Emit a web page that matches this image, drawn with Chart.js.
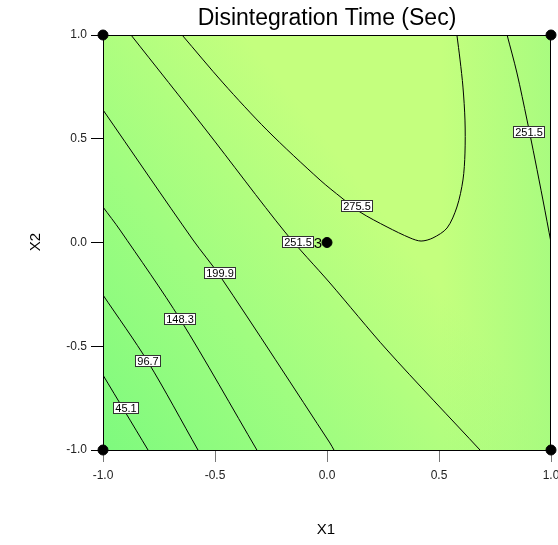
<!DOCTYPE html>
<html>
<head>
<meta charset="utf-8">
<script src="https://cdn.jsdelivr.net/npm/chart.js@4/dist/chart.umd.min.js"></script>
<style>
  html, body { margin: 0; padding: 0; background: #fff; }
  #wrap { width: 558px; height: 545px; }
</style>
</head>
<body>
<div id="wrap"><canvas id="grafiek" width="558" height="545"></canvas></div>
<script>
// tick labels
const tickWaarden = [-1.0, -0.5, 0.0, 0.5, 1.0];

// design points (X1, X2)
const puntX1 = [-1, 1, -1, 1, 0];
const puntX2 = [1, 1, -1, -1, 0];
const centrumAantal = "3";

// contour lines (X1, X2)
const c45X1 = [-1.000, -0.902, -0.799];
const c45X2 = [-0.639, -0.815, -1.000];

const c97X1 = [-1.000, -0.799, -0.576];
const c97X2 = [-0.253, -0.576, -1.000];

const c148X1 = [-1.000, -0.924, -0.656, -0.313];
const c148X2 = [0.171, 0.060, -0.369, -1.000];

const c200X1 = [-1.000, -0.598, -0.478, 0.013, 0.031];
const c200X2 = [0.639, 0.012, -0.161, -0.966, -1.000];

const c252X1 = [-0.875, -0.540, -0.188, 0.013, 0.268, 0.683];
const c252X2 = [1.000, 0.542, 0.051, -0.195, -0.518, -1.000];

const c276X1 = [-0.647, -0.464, -0.268, -0.031, 0.067, 0.147, 0.268, 0.371, 0.420, 0.473, 0.536, 0.580, 0.607, 0.616, 0.616, 0.607, 0.594, 0.580];
const c276X2 = [1.000, 0.769, 0.542, 0.301, 0.214, 0.147, 0.075, 0.022, 0.007, 0.022, 0.070, 0.171, 0.301, 0.431, 0.590, 0.749, 0.880, 1.000];

const c252bX1 = [0.804, 0.848, 0.893, 0.929, 0.964, 1.000];
const c252bX2 = [1.000, 0.817, 0.590, 0.398, 0.205, 0.000];

// contour labels
const labelTekst = ["45.1", "96.7", "148.3", "199.9", "251.5", "275.5", "251.5"];
const labelX1 = [-0.897, -0.797, -0.656, -0.478, -0.129, 0.134, 0.902];
const labelX2 = [-0.798, -0.571, -0.369, -0.147, 0.002, 0.176, 0.533];

const titel = 'Disintegration Time (Sec)';
const fontNaam = "'Liberation Sans', Arial, sans-serif";

function punten(xs, ys) {
  return xs.map((x, i) => ({ x: x, y: ys[i] }));
}

function contour(xs, ys) {
  return {
    type: 'line',
    data: punten(xs, ys),
    showLine: true,
    borderColor: '#000',
    borderWidth: 1,
    pointRadius: 0,
    tension: 0.3,
    fill: false
  };
}

// achtergrond: groen -> geelgroen kleurverloop
const achtergrond = {
  id: 'achtergrond',
  beforeDatasetsDraw(chart) {
    const { ctx, chartArea: a } = chart;
    ctx.save();
    ctx.beginPath();
    ctx.rect(a.left, a.top, a.right - a.left, a.bottom - a.top);
    ctx.clip();
    const g = ctx.createLinearGradient(a.left, a.bottom, a.left + 290, a.bottom - 225);
    g.addColorStop(0, 'rgb(126,250,126)');
    g.addColorStop(0.5, 'rgb(160,253,128)');
    g.addColorStop(1, 'rgb(196,255,126)');
    ctx.fillStyle = g;
    ctx.fillRect(a.left, a.top, a.right - a.left, a.bottom - a.top);
    const r = ctx.createLinearGradient(a.right - 110, 0, a.right, 0);
    r.addColorStop(0, 'rgba(160,250,128,0)');
    r.addColorStop(1, 'rgba(160,250,128,0.75)');
    ctx.fillStyle = r;
    ctx.fillRect(a.left, a.top, a.right - a.left, a.bottom - a.top);
    ctx.restore();
  },
  afterDatasetsDraw(chart) {
    const { ctx, chartArea: a, scales } = chart;
    ctx.save();
    // kader
    ctx.strokeStyle = '#000';
    ctx.lineWidth = 1;
    ctx.strokeRect(a.left + 0.5, a.top + 0.5, a.right - a.left - 1, a.bottom - a.top);
    // contour labels
    ctx.font = "11px " + fontNaam;
    ctx.textBaseline = 'middle';
    ctx.textAlign = 'center';
    labelTekst.forEach((t, i) => {
      const px = Math.round(scales.x.getPixelForValue(labelX1[i]));
      const py = Math.round(scales.y.getPixelForValue(labelX2[i]));
      const w = Math.ceil(ctx.measureText(t).width) + 4;
      ctx.fillStyle = '#fff';
      ctx.fillRect(px - w / 2, py - 6, w, 12);
      ctx.strokeStyle = '#333';
      ctx.strokeRect(px - w / 2 + 0.5, py - 6 + 0.5, w - 1, 11);
      ctx.fillStyle = '#000';
      ctx.fillText(t, px, py + 1);
    });
    // aantal herhalingen in het centrum
    ctx.font = "15px " + fontNaam;
    ctx.textAlign = 'right';
    ctx.fillText(centrumAantal, scales.x.getPixelForValue(0) - 5, scales.y.getPixelForValue(0) + 1);
    ctx.restore();
  },
  afterDraw(chart) {
    const { ctx, chartArea: a } = chart;
    ctx.save();
    ctx.fillStyle = '#000';
    ctx.textAlign = 'center';
    ctx.textBaseline = 'middle';
    // titel boven het plotvlak gecentreerd
    ctx.font = "23px " + fontNaam;
    ctx.fillText(titel, (a.left + a.right) / 2, 19);
    ctx.font = "15px " + fontNaam;
    ctx.fillText('X1', 326, 530);
    ctx.translate(36, 242);
    ctx.rotate(-Math.PI / 2);
    ctx.fillText('X2', 0, 0);
    ctx.restore();
  }
};

const ctx = document.getElementById("grafiek").getContext("2d");

new Chart(ctx, {
  type: 'scatter',
  data: {
    datasets: [
      contour(c45X1, c45X2),
      contour(c97X1, c97X2),
      contour(c148X1, c148X2),
      contour(c200X1, c200X2),
      contour(c252X1, c252X2),
      contour(c276X1, c276X2),
      contour(c252bX1, c252bX2),
      {
        data: punten(puntX1, puntX2),
        backgroundColor: '#000',
        borderColor: '#000',
        pointRadius: 5,
        clip: false
      }
    ]
  },
  options: {
    responsive: false,
    animation: false,
    layout: { padding: { left: 0, right: 7, top: 35, bottom: 0 } },
    plugins: {
      legend: { display: false },
      tooltip: { enabled: false },
      title: { display: false }
    },
    scales: {
      x: {
        type: 'linear',
        min: -1, max: 1,
        afterBuildTicks: s => { s.ticks = tickWaarden.map(v => ({ value: v })); },
        afterFit: s => { s.height = 95; s.paddingLeft = 0; s.paddingRight = 0; },
        ticks: {
          color: '#222',
          padding: 6,
          maxRotation: 0,
          font: { family: fontNaam, size: 12 },
          callback: v => v.toFixed(1)
        },
        grid: { drawOnChartArea: false, tickLength: 12, tickColor: '#777' },
        border: { display: false }
      },
      y: {
        type: 'linear',
        min: -1, max: 1,
        afterBuildTicks: s => { s.ticks = tickWaarden.map(v => ({ value: v })); },
        afterFit: s => { s.width = 103; s.paddingTop = 0; s.paddingBottom = 0; },
        ticks: {
          color: '#222',
          padding: 4,
          font: { family: fontNaam, size: 12 },
          callback: v => v.toFixed(1)
        },
        grid: { drawOnChartArea: false, tickLength: 12, tickColor: '#000' },
        border: { display: false }
      }
    }
  },
  plugins: [achtergrond]
});
</script>
</body>
</html>
